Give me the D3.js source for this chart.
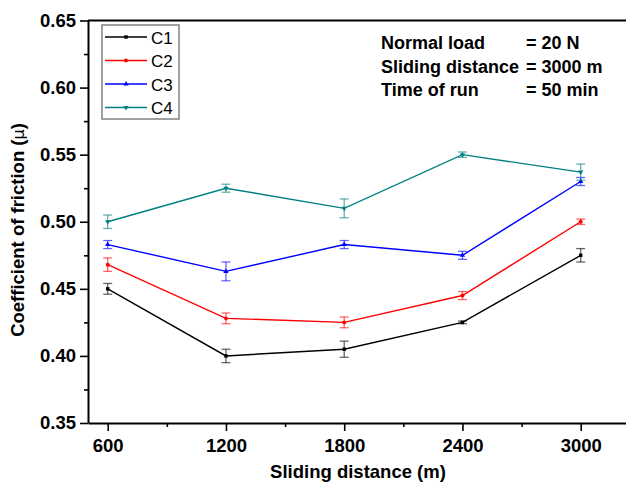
<!DOCTYPE html>
<html>
<head>
<meta charset="utf-8">
<script src="https://cdn.jsdelivr.net/npm/d3@7/dist/d3.min.js"></script>
<style>
  html, body { margin: 0; padding: 0; background: #fff; }
  svg { display: block; }
  text { font-family: "Liberation Sans", Arial, sans-serif; }
</style>
</head>
<body>
<svg id="chart" width="626" height="490"></svg>
<script>
// Sliding distance (m) at which friction was measured
const distances = [600, 1200, 1800, 2400, 3000];
const seriesNames = ["C1", "C2", "C3", "C4"];
// Mean coefficient of friction for each composition
const c1 = [0.450, 0.400, 0.405, 0.425, 0.475];
const c2 = [0.468, 0.428, 0.425, 0.445, 0.500];
const c3 = [0.483, 0.463, 0.483, 0.475, 0.530];
const c4 = [0.500, 0.525, 0.510, 0.550, 0.537];
// Standard deviation (error bar half-length)
const c1Err = [0.004, 0.005, 0.006, 0.001, 0.005];
const c2Err = [0.005, 0.004, 0.004, 0.003, 0.002];
const c3Err = [0.003, 0.007, 0.003, 0.003, 0.003];
const c4Err = [0.005, 0.003, 0.007, 0.002, 0.006];
const colors = ["#000000", "#ff0000", "#0000ff", "#008080"];
const symbols = [d3.symbolSquare, d3.symbolCircle, d3.symbolTriangle, "down"];
const yTicks = [0.35, 0.40, 0.45, 0.50, 0.55, 0.60, 0.65];
const yMinor = [0.375, 0.425, 0.475, 0.525, 0.575, 0.625];
const xMinor = [900, 1500, 2100, 2700];
const notes = [["Normal load", "= 20 N"], ["Sliding distance", "= 3000 m"], ["Time of run", "= 50 min"]];

const values = [c1, c2, c3, c4];
const errors = [c1Err, c2Err, c3Err, c4Err];

const svg = d3.select("#chart");
const W = 626, H = 490;
const mLeft = 88, mTop = 20.5, mBottom = 423;

const x = d3.scaleLinear().domain([500, 3300]).range([mLeft, mLeft + 2800 * (473 / 2400)]);
const y = d3.scaleLinear().domain([0.35, 0.65]).range([mBottom, mTop]);

const plot = svg.append("g");

// frame top line
svg.append("line")
  .attr("x1", mLeft).attr("x2", W + 2)
  .attr("y1", mTop).attr("y2", mTop)
  .attr("stroke", "#000").attr("stroke-width", 2);

// y axis
const yAxis = svg.append("g")
  .attr("transform", `translate(${mLeft},0)`)
  .call(d3.axisLeft(y).tickValues(yTicks).tickFormat(d3.format(".2f")).tickSize(8).tickPadding(4).tickSizeOuter(0));
yAxis.selectAll(".tick text").attr("font-size", 18.5).attr("font-weight", "bold").attr("fill", "#000")
  .attr("font-family", "Liberation Sans, Arial, sans-serif");
yAxis.select(".domain").attr("stroke-width", 2);
yAxis.selectAll(".tick line").attr("stroke-width", 1.6);
svg.append("g").attr("transform", `translate(${mLeft},0)`)
  .call(d3.axisLeft(y).tickValues(yMinor).tickFormat("").tickSize(4).tickSizeOuter(0))
  .call(g => g.select(".domain").remove())
  .selectAll("line").attr("stroke-width", 1.6);

// x axis
const xAxis = svg.append("g")
  .attr("transform", `translate(0,${mBottom})`)
  .call(d3.axisBottom(x).tickValues(distances).tickFormat(d3.format("d")).tickSize(8).tickPadding(8).tickSizeOuter(0));
xAxis.selectAll(".tick text").attr("font-size", 18.5).attr("font-weight", "bold").attr("fill", "#000")
  .attr("font-family", "Liberation Sans, Arial, sans-serif");
xAxis.select(".domain").attr("stroke-width", 2);
xAxis.selectAll(".tick line").attr("stroke-width", 1.6);
svg.append("g").attr("transform", `translate(0,${mBottom})`)
  .call(d3.axisBottom(x).tickValues(xMinor).tickFormat("").tickSize(4).tickSizeOuter(0))
  .call(g => g.select(".domain").remove())
  .selectAll("line").attr("stroke-width", 1.6);

// axis titles
svg.append("text")
  .attr("x", 358).attr("y", 478)
  .attr("text-anchor", "middle").attr("font-size", 18.5).attr("font-weight", "bold")
  .text("Sliding distance (m)");
const yt = svg.append("text")
  .attr("transform", "translate(24,230) rotate(-90)")
  .attr("text-anchor", "middle").attr("font-size", 18.5).attr("font-weight", "bold");
yt.append("tspan").text("Coefficient of friction (");
yt.append("tspan").attr("font-weight", "normal").attr("font-family", "DejaVu Sans, sans-serif").attr("font-size", 16).text("μ");
yt.append("tspan").text(")");

function symbolPath(s, size) {
  if (s === "down") return d3.symbol().type(d3.symbolTriangle).size(size)();
  return d3.symbol().type(s).size(size)();
}

const line = d3.line().x(d => x(d[0])).y(d => y(d[1]));

values.forEach((vals, i) => {
  const pts = distances.map((d, j) => [d, vals[j], errors[i][j]]);
  const g = plot.append("g");
  // error bars
  const eb = g.append("g").attr("stroke", colors[i]).attr("stroke-opacity", 0.6).attr("stroke-width", 1.3);
  pts.forEach(p => {
    const cx = x(p[0]);
    eb.append("line").attr("x1", cx).attr("x2", cx).attr("y1", y(p[1] - p[2])).attr("y2", y(p[1] + p[2]));
    eb.append("line").attr("x1", cx - 4.5).attr("x2", cx + 4.5).attr("y1", y(p[1] - p[2])).attr("y2", y(p[1] - p[2]));
    eb.append("line").attr("x1", cx - 4.5).attr("x2", cx + 4.5).attr("y1", y(p[1] + p[2])).attr("y2", y(p[1] + p[2]));
  });
  g.append("path").datum(pts).attr("d", line)
    .attr("fill", "none").attr("stroke", colors[i]).attr("stroke-width", 1.4);
  g.selectAll(".m").data(pts).join("path")
    .attr("d", symbolPath(symbols[i], 12))
    .attr("transform", p => `translate(${x(p[0])},${y(p[1])})` + (symbols[i] === "down" ? " rotate(180)" : ""))
    .attr("fill", colors[i]);
});

// legend
const lg = svg.append("g");
lg.append("rect").attr("x", 102).attr("y", 25).attr("width", 77).attr("height", 94)
  .attr("fill", "#fff").attr("stroke", "#808080").attr("stroke-width", 1.5);
seriesNames.forEach((name, i) => {
  const cy = 37 + i * 23.5;
  lg.append("line").attr("x1", 105).attr("x2", 147).attr("y1", cy).attr("y2", cy)
    .attr("stroke", colors[i]).attr("stroke-width", 1.4);
  lg.append("path").attr("d", symbolPath(symbols[i], 12))
    .attr("transform", `translate(126,${cy})` + (symbols[i] === "down" ? " rotate(180)" : ""))
    .attr("fill", colors[i]);
  lg.append("text").attr("x", 151).attr("y", cy + 6.5).attr("font-size", 17).text(name);
});

// test conditions
notes.forEach((n, i) => {
  const by = 49 + i * 23.5;
  svg.append("text").attr("x", 381).attr("y", by).attr("font-size", 18).attr("font-weight", "bold").text(n[0]);
  svg.append("text").attr("x", 526).attr("y", by).attr("font-size", 18).attr("font-weight", "bold").text(n[1]);
});
</script>
</body>
</html>
